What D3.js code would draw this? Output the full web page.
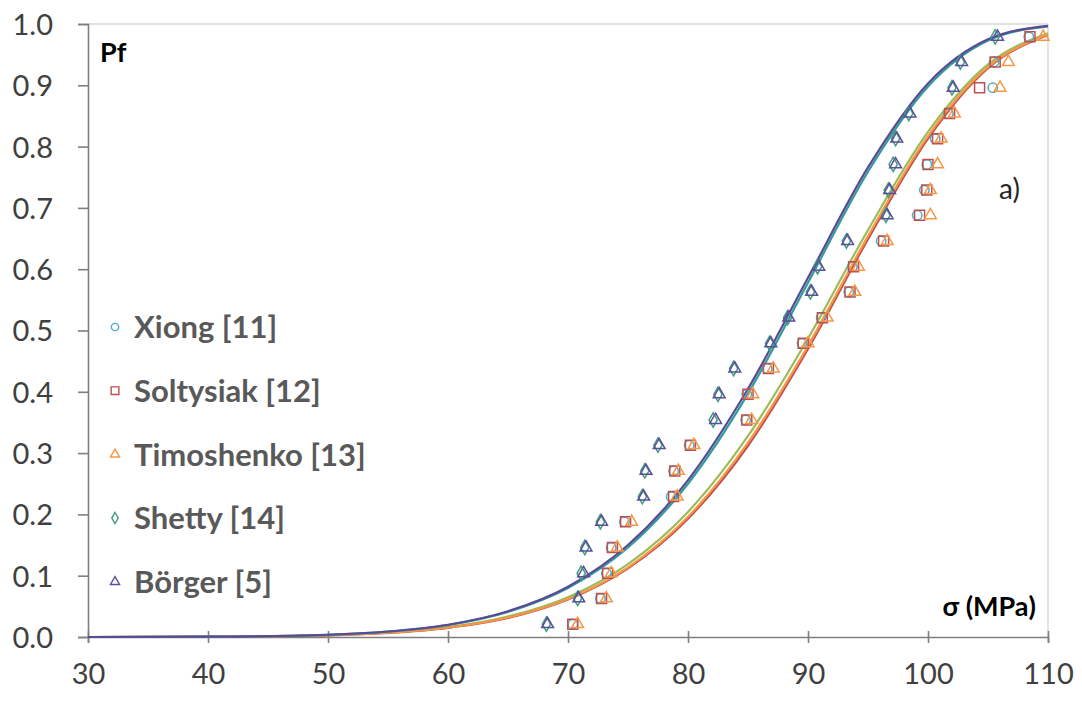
<!DOCTYPE html>
<html>
<head>
<meta charset="UTF-8">
<style>
body { margin: 0; padding: 0; background: #ffffff; }
svg { display: block; font-family: Lato, "Open Sans", sans-serif; }
</style>
</head>
<body>
<svg></svg>
<script src="https://d3js.org/d3.v7.min.js"></script>
<script>

// series names, legend order
const seriesNames = ["Xiong [11]", "Soltysiak [12]", "Timoshenko [13]", "Shetty [14]", "Börger [5]"];

// failure probability levels of the ranked points
const pfLevels = [0.021, 0.063, 0.104, 0.146, 0.188, 0.229, 0.271, 0.313, 0.354, 0.396, 0.438, 0.479,
                  0.521, 0.563, 0.604, 0.646, 0.688, 0.729, 0.771, 0.813, 0.854, 0.896, 0.938, 0.979];

const xiongStress      = [70.4, 72.7, 73.2, 73.6, 74.7, 78.6, 78.8, 80.1, 84.8, 84.9, 86.6, 89.5, 91.1, 93.4, 93.7, 96.1, 99.1, 99.7, 99.9, 100.6, 101.7, 105.4, 105.5, 108.4];
const soltysiakStress  = [70.4, 72.8, 73.3, 73.7, 74.8, 78.8, 78.9, 80.2, 84.9, 85.0, 86.7, 89.6, 91.2, 93.5, 93.8, 96.3, 99.3, 99.9, 100.0, 100.8, 101.8, 104.3, 105.6, 108.5];
const timoshenkoStress = [70.8, 73.2, 73.6, 74.1, 75.3, 79.1, 79.2, 80.5, 85.3, 85.4, 87.1, 90.0, 91.6, 93.9, 94.2, 96.6, 100.2, 100.2, 100.8, 101.1, 102.2, 106.0, 106.7, 109.6];
const shettyStress     = [68.2, 70.8, 71.1, 71.4, 72.7, 76.2, 76.4, 77.5, 82.1, 82.5, 83.8, 86.8, 88.3, 90.2, 90.8, 93.2, 96.5, 96.7, 97.1, 97.3, 98.4, 102.0, 102.7, 105.6];
const borgerStress     = [68.3, 70.9, 71.3, 71.5, 72.8, 76.3, 76.5, 77.6, 82.3, 82.6, 83.9, 86.9, 88.4, 90.3, 90.9, 93.3, 96.6, 96.8, 97.3, 97.4, 98.5, 102.1, 102.8, 105.8];

// fitted curves, sampled along the stress axis
const curveStress     = [30, 40, 50, 55, 60, 65, 70, 75, 80, 85, 90, 95, 100, 105, 110];
const xiongCurve      = [0, 0.0004, 0.0031, 0.0073, 0.0162, 0.0335, 0.065, 0.119, 0.204, 0.328, 0.487, 0.664, 0.824, 0.934, 0.985];
const soltysiakCurve  = [0, 0.0003, 0.0028, 0.0067, 0.0150, 0.0310, 0.061, 0.112, 0.193, 0.312, 0.470, 0.649, 0.813, 0.928, 0.982];
const timoshenkoCurve = [0, 0.0004, 0.0029, 0.0069, 0.0153, 0.0318, 0.0619, 0.1135, 0.196, 0.317, 0.475, 0.654, 0.817, 0.930, 0.983];
const shettyCurve     = [0, 0.0005, 0.0036, 0.0088, 0.0195, 0.041, 0.080, 0.146, 0.250, 0.397, 0.578, 0.759, 0.898, 0.973, 0.996];
const borgerCurve     = [0, 0.0005, 0.0037, 0.0090, 0.0200, 0.042, 0.082, 0.150, 0.256, 0.405, 0.586, 0.766, 0.903, 0.975, 0.997];

const xTicks = [30, 40, 50, 60, 70, 80, 90, 100, 110];
const yTicks = [0, 0.1, 0.2, 0.3, 0.4, 0.5, 0.6, 0.7, 0.8, 0.9, 1.0];

const markerColors = ["#4bacc6", "#c0504d", "#f79646", "#3f9f7c", "#5b4e9e"];
const curveColors  = ["#9bbb59", "#c0504d", "#f79646", "#2f9e9a", "#5a4a96"];
const markerShapes = [d3.symbolCircle, d3.symbolSquare, d3.symbolTriangle, d3.symbolDiamond, d3.symbolTriangle];
const markerSizes  = [70, 100, 60, 60, 60];

const stressData = [xiongStress, soltysiakStress, timoshenkoStress, shettyStress, borgerStress];
const curveData  = [xiongCurve, soltysiakCurve, timoshenkoCurve, shettyCurve, borgerCurve];

let width = 1082, height = 701;
let svg = d3.select("svg").attr("width", width).attr("height", height);

let x = d3.scaleLinear().domain([30, 110]).range([88, 1048]);
let y = d3.scaleLinear().domain([0, 1]).range([637, 24]);

// plot frame (top and right)
svg.append("line").attr("x1", 88).attr("x2", 1048).attr("y1", 24).attr("y2", 24)
  .attr("stroke", "#d9d9d9").attr("stroke-width", 1.5);
svg.append("line").attr("x1", 1048).attr("x2", 1048).attr("y1", 24).attr("y2", 637)
  .attr("stroke", "#d9d9d9").attr("stroke-width", 1.5);

// axes
let yAxis = svg.append("g")
  .attr("transform", "translate(88,0)")
  .call(d3.axisLeft(y).tickValues(yTicks).tickFormat(d3.format(".1f")).tickSize(10).tickPadding(25));

let xAxis = svg.append("g")
  .attr("transform", "translate(0,637)")
  .call(d3.axisBottom(x).tickValues(xTicks).tickSize(6).tickPadding(20));

xAxis.selectAll(".tick line").attr("y1", -6).attr("y2", 6);

[xAxis, yAxis].forEach(g => {
  g.select(".domain").attr("stroke", "#7f7f7f").attr("stroke-width", 1.6);
  g.selectAll(".tick line").attr("stroke", "#7f7f7f").attr("stroke-width", 1.6);
  g.selectAll(".tick text").attr("font-family", "Lato").attr("font-size", "29px").attr("fill", "#404040");
});
yAxis.selectAll(".tick text").attr("dy", "0.36em");

// fitted curves
let line = d3.line()
  .x((d, i) => x(curveStress[i]))
  .y(d => y(d))
  .curve(d3.curveMonotoneX);

svg.append("g").selectAll("path")
  .data(curveData)
  .enter()
  .append("path")
  .attr("d", d => line(d))
  .attr("fill", "none")
  .attr("stroke", (d, i) => curveColors[i])
  .attr("stroke-width", 2.2);

// data points
stressData.forEach((vals, s) => {
  svg.append("g").selectAll("path")
    .data(vals)
    .enter()
    .append("path")
    .attr("transform", (d, i) => `translate(${x(d)},${y(pfLevels[i])})`)
    .attr("d", d3.symbol().type(markerShapes[s]).size(markerSizes[s]))
    .attr("fill", "none")
    .attr("stroke", markerColors[s])
    .attr("stroke-width", 1.5);
});

// legend
let legend = svg.append("g");
seriesNames.forEach((name, i) => {
  let ly = 327 + i * 63.7;
  legend.append("path")
    .attr("transform", `translate(115,${ly})`)
    .attr("d", d3.symbol().type(markerShapes[i]).size(markerSizes[i] * 0.6))
    .attr("fill", "none")
    .attr("stroke", markerColors[i])
    .attr("stroke-width", 1.4);
  legend.append("text")
    .attr("x", 134)
    .attr("y", ly)
    .attr("dy", "0.36em")
    .attr("font-size", "31px")
    .attr("font-weight", "bold")
    .attr("fill", "#595959")
    .text(name);
});

// annotations
svg.append("text").attr("x", 100).attr("y", 62)
  .attr("font-size", "27px").attr("font-weight", "bold").attr("fill", "#000")
  .text("Pf");
svg.append("text").attr("x", 1036).attr("y", 616).attr("text-anchor", "end")
  .attr("font-size", "27px").attr("font-weight", "bold").attr("fill", "#000")
  .text("σ (MPa)");
svg.append("text").attr("x", 999).attr("y", 199)
  .attr("font-size", "28px").attr("fill", "#262626")
  .text("a)");

</script>
</body>
</html>
